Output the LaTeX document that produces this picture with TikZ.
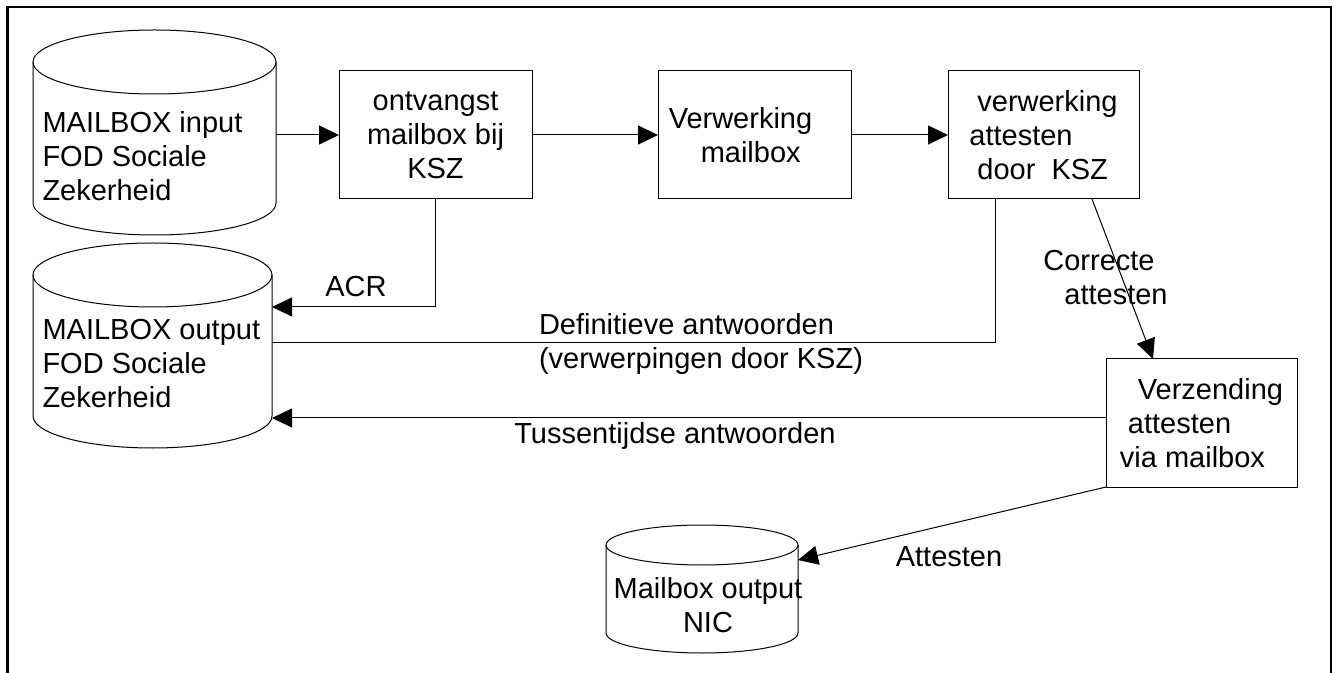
\documentclass[tikz,border=0pt]{standalone}
\usepackage{fontspec}
\setmainfont{Liberation Sans}
\usetikzlibrary{arrows.meta,calc,positioning}

\tikzset{every picture/.style={line width=0.5pt}}
\tikzset{
  txtfont/.style={font=\fontsize{14.5}{17}\selectfont},
  procbox/.style={draw, rectangle, minimum width=96.5pt, minimum height=64pt, inner sep=0pt, outer sep=0pt, txtfont},
  dbbody/.style={rectangle, inner sep=0pt, outer sep=0pt},
  dbtext/.style={inner sep=0pt, align=left, txtfont},
  lbl/.style={inner sep=0pt, align=left, txtfont},
  flow/.style={-{Triangle[length=10pt,width=9.5pt]}},
  frameline/.style={line width=1.2pt}
}
% can outline round a named node: node, x radius, y radius
\newcommand{\dbshape}[3]{%
  \draw ($(#1.north)+(0,#3)$) ellipse [x radius=#2, y radius=#3];
  \draw ($(#1.north west)+(0,#3)$) -- ($(#1.south west)+(0,-#3)$)
    arc [start angle=180, end angle=0, x radius=#2, y radius=#3]
    -- ($(#1.north east)+(0,#3)$);
}

\begin{document}
\begin{tikzpicture}[x=0.5pt,y=0.5pt,yscale=-1,xscale=1]
\useasboundingbox (0,0) rectangle (1338,673);

%Shape: Frame
\draw [frameline] (7.5,673) -- (7.5,7) -- (1331,7) -- (1331,673);

%Shape: Can [MAILBOX input]
\node [dbbody, minimum width=121.5pt, minimum height=102.5pt] (inbox) at (154.5,132.5) {};
\dbshape{inbox}{121.5}{32}
%Shape: Can [MAILBOX output]
\node [dbbody, minimum width=119.5pt, minimum height=102.5pt] (outbox) at (152.5,345.5) {};
\dbshape{outbox}{119.5}{32}
%Shape: Can [Mailbox output NIC]
\node [dbbody, minimum width=96pt, minimum height=64pt] (nicbox) at (702,589) {};
\dbshape{nicbox}{96}{20}

%Shape: Rectangle
\node [procbox, align=center] (recv) at (435.5,135) {ontvangst\\mailbox bij\\KSZ};
%Shape: Rectangle
\node [procbox, align=left] (proc) at (754.5,135) {Verwerking\hspace*{14pt}\\\hspace*{16pt}mailbox};
%Shape: Rectangle
\node [procbox, minimum width=95.5pt, align=left] (check) at (1043.5,135) {\hspace*{4pt}verwerking\\attesten\\\hspace*{4pt}door\ \ KSZ};
%Shape: Rectangle
\node [procbox, minimum width=95.5pt, align=left] (send) at (1201.5,423) {\hspace*{9pt}Verzending\\\hspace*{4pt}attesten\\via mailbox};

% Text Node
\node [dbtext, anchor=north west] (intxt) at (42,111) {MAILBOX input\\FOD Sociale\\Zekerheid};
% Text Node
\node [dbtext, anchor=north west] (outtxt) at (42,319) {MAILBOX output\\FOD Sociale\\Zekerheid};
% Text Node
\node [dbtext, align=center, anchor=north] (nictxt) at (708,577) {Mailbox output\\NIC};

%Straight Lines
\draw [flow] (inbox.east |- recv.west) -- (recv.west);
\draw [flow] (recv.east) -- (proc.west);
\draw [flow] (proc.east) -- (check.west);
%Straight Lines [ACR]
\draw [flow] (recv.south) |- ($(outbox.east)+(0,-38.5)$);
%Straight Lines [Definitieve antwoorden]
\draw ($(check.south west)+(47,0)$) |- ($(outbox.east)+(0,-2.5)$);
%Straight Lines [Tussentijdse antwoorden]
\draw [flow] ($(send.west)+(0,-5)$) -- ($(outbox.east)+(0,72.5)$);
%Straight Lines [Correcte attesten]
\draw [flow] ($(check.south east)+(-47,0)$) -- ($(send.north west)+(47,0)$);
%Straight Lines [Attesten]
\draw [flow] (send.south west) -- ($(nicbox.east)+(0,-29)$);

% Text Node
\node [lbl] (acrlbl) at (356,287) {ACR};
% Text Node
\node [lbl] (deflbl) at (701,344) {Definitieve antwoorden\\(verwerpingen door KSZ)};
% Text Node
\node [lbl] (tuslbl) at (675,436) {Tussentijdse antwoorden};
% Text Node
\node [lbl] (corlbl) at (1105.5,277.5) {Correcte\\\hspace*{10.5pt}attesten};
% Text Node
\node [lbl] (attlbl) at (949,557) {Attesten};

\end{tikzpicture}
\end{document}
